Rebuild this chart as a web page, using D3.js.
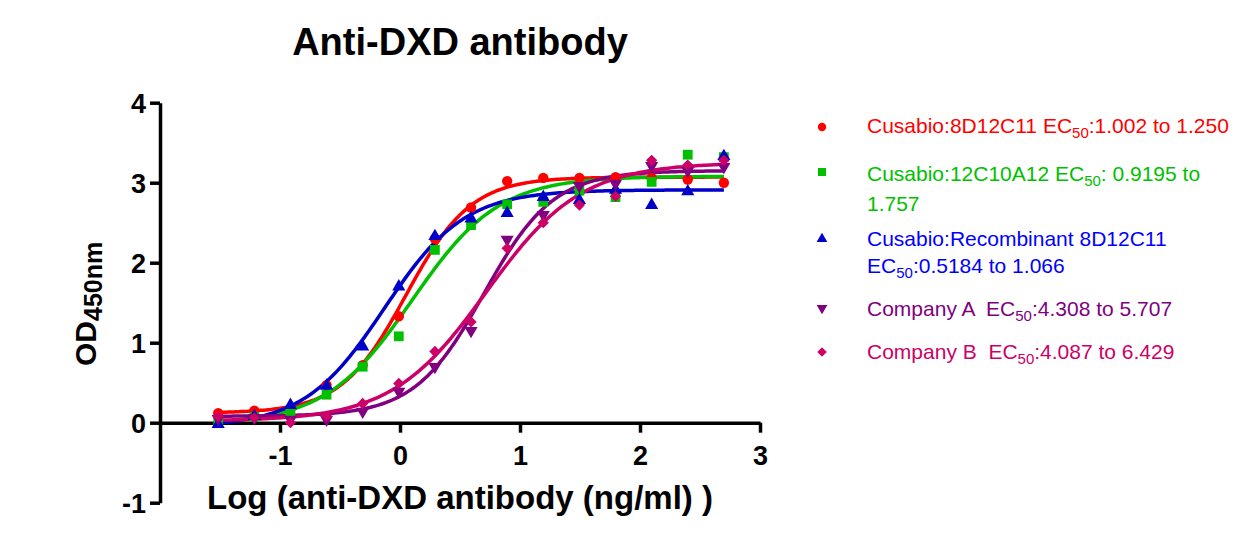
<!DOCTYPE html>
<html>
<head>
<meta charset="utf-8">
<script src="https://cdn.jsdelivr.net/npm/d3@7"></script>
<style>
  html, body { margin: 0; padding: 0; background: #fff; }
  svg { display: block; font-family: Arial, "Liberation Sans", sans-serif; }
  .pre { white-space: pre; }
</style>
</head>
<body>
<svg id="chart" width="1240" height="554"></svg>
<script>
// ---------- data ----------
const logConc = [-1.515, -1.214, -0.913, -0.612, -0.311, -0.010, 0.291, 0.592, 0.893, 1.194, 1.495, 1.796, 2.097, 2.398, 2.699];
const seriesNames = ["Cusabio:8D12C11", "Cusabio:12C10A12", "Cusabio:Recombinant 8D12C11", "Company A", "Company B"];
const redValues     = [0.12, 0.15, 0.17, 0.47, 0.72, 1.33, 2.30, 2.69, 3.02, 3.06, 3.06, 3.07, 3.06, 3.04, 3.00];
const greenValues   = [0.00, 0.07, 0.14, 0.35, 0.70, 1.08, 2.16, 2.47, 2.73, 2.76, 2.90, 2.82, 3.01, 3.35, 3.32];
const blueValues    = [-0.02, 0.08, 0.22, 0.46, 0.95, 1.70, 2.33, 2.55, 2.62, 2.82, 2.78, 2.91, 2.72, 2.89, 3.33];
const purpleValues  = [0.05, 0.06, 0.04, 0.04, 0.14, 0.39, 0.70, 1.15, 2.29, 2.60, 2.96, 2.99, 3.21, 3.15, 3.20];
const magentaValues = [0.08, 0.06, 0.00, 0.08, 0.24, 0.49, 0.89, 1.26, 2.18, 2.50, 2.72, 2.83, 3.28, 3.22, 3.28];
// 4PL fit parameters: [bottom, top, logEC50, hill]
const redFit     = [0.12, 3.07, 0.05, 1.6];
const greenFit   = [-0.02, 3.08, 0.10, 1.2];
const blueFit    = [-0.05, 2.91, -0.13, 1.3];
const purpleFit  = [0.08, 3.15, 0.70, 1.5];
const magentaFit = [0.02, 3.25, 0.72, 1.1];
// legend text: [main, subscript, rest] per line
const legendLines = [
  [["Cusabio:8D12C11 EC", "50", ":1.002 to 1.250"]],
  [["Cusabio:12C10A12 EC", "50", ": 0.9195 to"], ["1.757", "", ""]],
  [["Cusabio:Recombinant 8D12C11", "", ""], ["EC", "50", ":0.5184 to 1.066"]],
  [["Company A  EC", "50", ":4.308 to 5.707"]],
  [["Company B  EC", "50", ":4.087 to 6.429"]]
];
const xTicks = [-1, 0, 1, 2, 3];
const yTicks = [-1, 0, 1, 2, 3, 4];

// ---------- styles ----------
const series = [
  { values: redValues, fit: redFit, color: "#FF0000", text: "#FF0000", symbol: d3.symbolCircle, size: 85, lsize: 55, rot: 0 },
  { values: greenValues, fit: greenFit, color: "#00C000", text: "#00C000", symbol: d3.symbolSquare, size: 95, lsize: 64, rot: 0 },
  { values: blueValues, fit: blueFit, color: "#0000C8", text: "#0000FF", symbol: d3.symbolTriangle, size: 75, lsize: 50, rot: 0 },
  { values: purpleValues, fit: purpleFit, color: "#800080", text: "#800080", symbol: d3.symbolTriangle, size: 75, lsize: 50, rot: 180 },
  { values: magentaValues, fit: magentaFit, color: "#CC0066", text: "#CC0066", symbol: d3.symbolSquare, size: 64, lsize: 45, rot: 45 }
];

const svg = d3.select("#chart");
const x = d3.scaleLinear().domain([-2, 3]).range([160, 760]);
const y = d3.scaleLinear().domain([-1, 4]).range([502.7, 102.7]);

// title
svg.append("text").attr("x", 460).attr("y", 55).attr("text-anchor", "middle")
  .attr("font-size", 38).attr("font-weight", "bold").text("Anti-DXD antibody");

// axes
const xAxis = svg.append("g").attr("transform", `translate(0,${y(0)})`)
  .call(d3.axisBottom(x).tickValues(xTicks).tickSize(10).tickSizeOuter(0).tickPadding(13).tickFormat(d => String(d)));
const yAxis = svg.append("g").attr("transform", `translate(${x(-2)},0)`)
  .call(d3.axisLeft(y).tickValues(yTicks).tickSize(10).tickSizeOuter(0).tickPadding(4).tickFormat(d => String(d)));
[xAxis, yAxis].forEach(g => {
  g.select(".domain").attr("stroke", "#000").attr("stroke-width", 3.5);
  g.selectAll(".tick line").attr("stroke", "#000").attr("stroke-width", 3.5);
  g.selectAll(".tick text").attr("fill", "#000").attr("font-size", 27).attr("font-weight", "bold")
    .attr("font-family", "Arial, 'Liberation Sans', sans-serif");
});
yAxis.selectAll(".tick text").attr("dy", "0.36em");

// axis labels
svg.append("text").attr("x", 460).attr("y", 509).attr("text-anchor", "middle")
  .attr("font-size", 33).attr("font-weight", "bold").text("Log (anti-DXD antibody (ng/ml) )");
const yl = svg.append("text").attr("transform", "translate(96,366) rotate(-90)").attr("text-anchor", "start")
  .attr("font-size", 30).attr("font-weight", "bold");
yl.append("tspan").text("OD");
yl.append("tspan").attr("font-size", 25).attr("dy", 6).text("450nm");

// curves
const fourPL = (p, v) => p[0] + (p[1] - p[0]) / (1 + Math.pow(10, (p[2] - v) * p[3]));
const xMin = d3.min(logConc), xMax = d3.max(logConc);
const curveX = d3.range(0, 201).map(i => xMin + (xMax - xMin) * i / 200);
const line = d3.line().x(d => x(d[0])).y(d => y(d[1]));
series.forEach(s => {
  svg.append("path").attr("fill", "none").attr("stroke", s.color).attr("stroke-width", 3.5)
    .attr("d", line(curveX.map(v => [v, fourPL(s.fit, v)])));
});
// points
series.forEach(s => {
  svg.append("g").selectAll("path").data(s.values).join("path")
    .attr("transform", (d, i) => `translate(${x(logConc[i])},${y(d)}) rotate(${s.rot})`)
    .attr("d", d3.symbol().type(s.symbol).size(s.size)())
    .attr("fill", s.color);
});

// legend
const legendY = [[133], [181, 211], [246, 273], [316], [359]];
const markerY = [127, 172, 239, 308, 352];
series.forEach((s, k) => {
  svg.append("path").attr("transform", `translate(822,${markerY[k]}) rotate(${s.rot})`)
    .attr("d", d3.symbol().type(s.symbol).size(s.lsize)()).attr("fill", s.color);
  legendLines[k].forEach((ln, j) => {
    const t = svg.append("text").attr("class", "pre").attr("x", 867).attr("y", legendY[k][j])
      .attr("font-size", 21).attr("fill", s.text);
    t.append("tspan").text(ln[0]);
    if (ln[1]) {
      t.append("tspan").attr("font-size", 15).attr("dy", 5).text(ln[1]);
      t.append("tspan").attr("dy", -5).text(ln[2]);
    } else if (ln[2]) {
      t.append("tspan").text(ln[2]);
    }
  });
});
</script>
</body>
</html>
